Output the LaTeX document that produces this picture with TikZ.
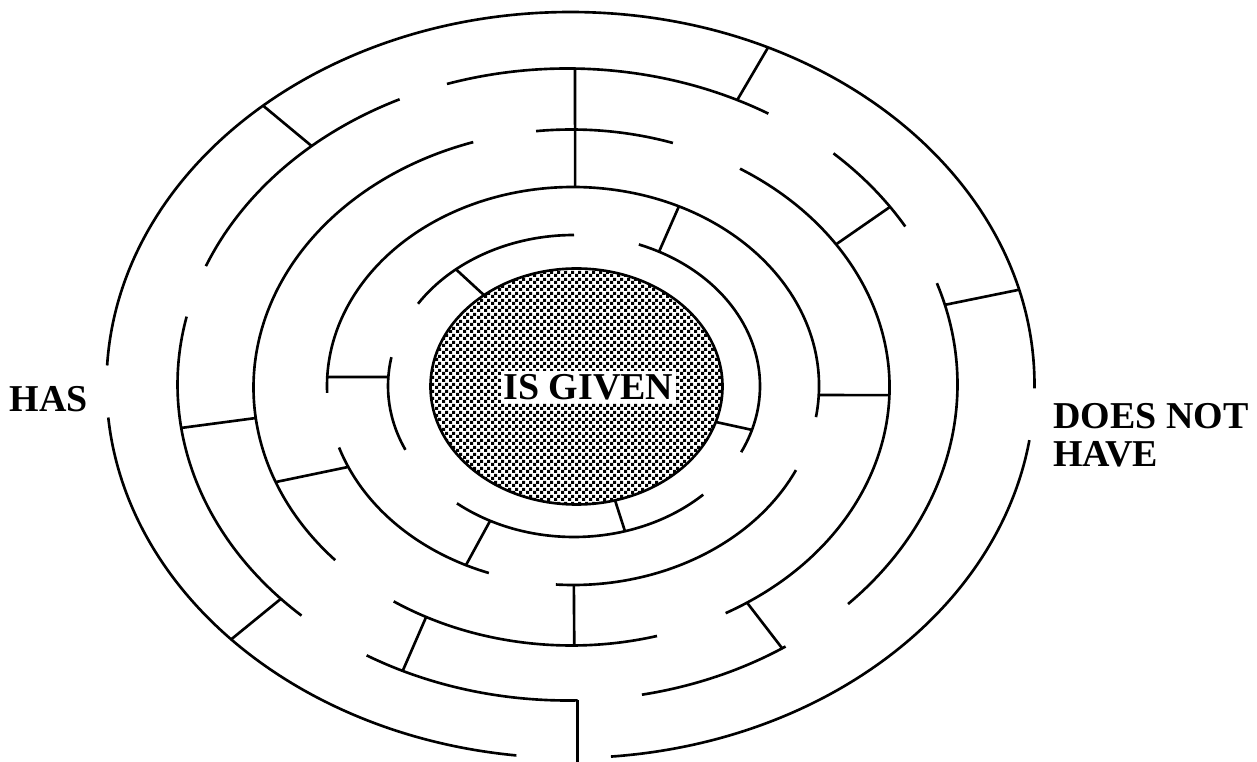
\documentclass[tikz,border=0pt]{standalone}
\usepackage{fontspec}
\setmainfont{Liberation Serif}
\usepackage{tikz}
\usetikzlibrary{calc,patterns}
\pgfdeclarepatternformonly{dither}{\pgfpointorigin}{\pgfqpoint{4pt}{4pt}}{\pgfqpoint{4pt}{4pt}}{%
  \pgfpathrectangle{\pgfpointorigin}{\pgfqpoint{2pt}{2pt}}%
  \pgfpathrectangle{\pgfqpoint{2pt}{2pt}}{\pgfqpoint{2pt}{2pt}}%
  \pgfusepath{fill}}
\tikzset{
  wall/.style={line width=1.5pt},
  core/.style={draw,line width=1.5pt,pattern=dither},
  word/.style={font=\fontsize{21.6}{21.6}\selectfont\bfseries,inner sep=0pt,align=left},
}

\begin{document}
\begin{tikzpicture}[x=0.02cm,y=0.02cm]
  \useasboundingbox (0,0) rectangle (1257,761);
  \coordinate (o1) at (570.5,376);
  \coordinate (o2) at (567.5,376.5);
  \coordinate (o3) at (571.5,373.5);
  \coordinate (o4) at (573,375);
  \coordinate (o5) at (574,375);
  \coordinate (oc) at (576.5,374.5);

  % rings, outer to inner
  \foreach \s/\e in {-0.5/177,185/263.3,275/351.5}
    \draw[wall] (o1) ++(\s:464 and 373) arc[start angle=\s,end angle=\e,x radius=464,y radius=373];
  \foreach \s/\e in {30/47,59/108,115.5/158,167.6/227,239/271.5,281/304,316/378.7}
    \draw[wall] (o2) ++(\s:390 and 316) arc[start angle=\s,end angle=\e,x radius=390,y radius=316];
  \foreach \s/\e in {71.4/96.4,108/222,236/285.6,299/418}
    \draw[wall] (o3) ++(\s:318 and 258) arc[start angle=\s,end angle=\e,x radius=318,y radius=258];
  \foreach \s/\e in {-9/182,198/250,266/335}
    \draw[wall] (o4) ++(\s:246 and 199) arc[start angle=\s,end angle=\e,x radius=246,y radius=199];
  \foreach \s/\e in {90/147,169/205,231/314,334/429.6}
    \draw[wall] (o5) ++(\s:186 and 151) arc[start angle=\s,end angle=\e,x radius=186,y radius=151];

  % cross walls
  \draw[wall] ($(o1)+(131.5:464 and 373)$) -- ($(o2)+(131:390 and 316)$);
  \draw[wall] ($(o1)+(64.8:464 and 373)$) -- ($(o2)+(64.2:390 and 316)$);
  \draw[wall] ($(o1)+(14.8:464 and 373)$) -- ($(o2)+(14.6:390 and 316)$);
  \draw[wall] ($(o1)+(223:464 and 373)$) -- ($(o2)+(222.7:390 and 316)$);
  \draw[wall] ($(o2)+(88.9:390 and 316)$) -- ($(o4)+(89.5:246 and 199)$);
  \draw[wall] ($(o2)+(34.2:390 and 316)$) -- ($(o3)+(33.7:318 and 258)$);
  \draw[wall] ($(o2)+(187.9:390 and 316)$) -- ($(o3)+(186.8:318 and 258)$);
  \draw[wall] ($(o2)+(245:390 and 316)$) -- ($(o3)+(242.8:318 and 258)$);
  \draw[wall] ($(o2)+(-56.6:390 and 316)$) -- ($(o3)+(-56.5:318 and 258)$);
  \draw[wall] ($(o2)+(271.5:390 and 316)$) -- ++(0,-62);
  \draw[wall] ($(o3)+(-1.7:318 and 258)$) -- ($(o4)+(-2.6:246 and 199)$);
  \draw[wall] ($(o3)+(201.5:318 and 258)$) -- ($(o4)+(204:246 and 199)$);
  \draw[wall] ($(o3)+(270.5:318 and 258)$) -- ($(o4)+(270.2:246 and 199)$);
  \draw[wall] ($(o4)+(64.5:246 and 199)$) -- ($(o5)+(62.8:186 and 151)$);
  \draw[wall] ($(o4)+(177.4:246 and 199)$) -- ($(o5)+(176.6:186 and 151)$);
  \draw[wall] ($(o4)+(244.2:246 and 199)$) -- ($(o5)+(243.2:186 and 151)$);
  \draw[wall] ($(o5)+(129.4:186 and 151)$) -- ($(oc)+(129.3:146 and 118)$);
  \draw[wall] ($(o5)+(-16.9:186 and 151)$) -- ($(oc)+(-17.5:146 and 118)$);
  \draw[wall] ($(o5)+(-74.1:186 and 151)$) -- ($(oc)+(-74.7:146 and 118)$);

  % centre
  \draw[core] (oc) ellipse[x radius=146,y radius=118];
  \node[word,fill=white,inner xsep=1.5pt,inner ysep=2pt] (given) at (588.5,374) {IS GIVEN};

  \node[word] (has) at (49,362) {HAS};
  \node[word,anchor=north west] (hasnot) at (1053,358) {DOES NOT\\HAVE};
\end{tikzpicture}
\end{document}
